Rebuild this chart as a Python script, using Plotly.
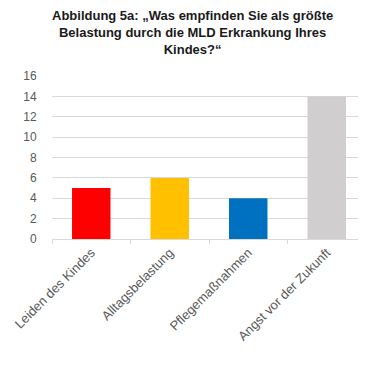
import plotly.graph_objects as go

categories = ["Leiden des Kindes", "Alltagsbelastung", "Pflegemaßnahmen", "Angst vor der Zukunft"]
values = [5, 6, 4, 14]
colors = ["#FF0000", "#FFC000", "#0070C0", "#D0CECE"]
y_ticks = [0, 2, 4, 6, 8, 10, 12, 14, 16]
title_text = "Abbildung 5a: „Was empfinden Sie als größte<br>Belastung durch die MLD Erkrankung Ihres<br>Kindes?“"

fig = go.Figure(go.Bar(x=categories, y=values, marker=dict(color=colors, line=dict(width=0)), width=0.49))

fig.update_layout(
    width=358, height=357,
    margin=dict(l=44, r=0, t=68, b=126),
    paper_bgcolor="white", plot_bgcolor="white",
    showlegend=False,
    font=dict(family="Liberation Sans, Arial", size=12, color="#595959"),
)
fig.add_annotation(
    text=title_text, xref="paper", yref="paper",
    x=(184 - 44) / 314, y=(231 - 24) / 163, xanchor="center", yanchor="middle",
    showarrow=False, align="center",
    font=dict(family="Liberation Sans, Arial", size=13, color="#1a1a1a", weight="bold"),
)
fig.update_yaxes(range=[0, 16], tickvals=y_ticks, showgrid=True, gridcolor="#D9D9D9", gridwidth=1,
                 zeroline=False, showline=False, ticks="outside", ticklen=12,
                 tickcolor="#ffffff", tickwidth=1,
                 tickfont=dict(size=12, color="#595959"))
fig.update_xaxes(showline=True, linecolor="#D9D9D9", linewidth=1, ticks="outside", tickson="boundaries",
                 ticklen=4, tickcolor="#D9D9D9", tickangle=-45, tickfont=dict(size=13, color="#595959"))

fig.write_html("out.html")
